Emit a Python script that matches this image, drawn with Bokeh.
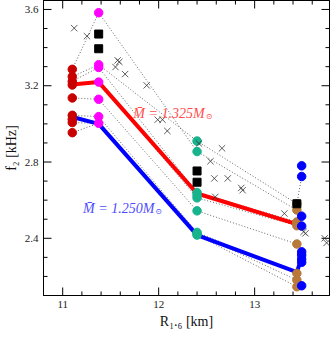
from bokeh.plotting import figure
from bokeh.models import LinearAxis, Range1d, FixedTicker, Label, CustomJSTickFormatter
from bokeh.embed import file_html
from bokeh.resources import INLINE

# ---------------- data ----------------
eos_R = [11.1, 11.375, 12.4, 13.44]
blue_R = 13.49

darkred_f = [3.286, 3.248, 3.223, 3.204, 3.136, 3.045, 3.024, 3.007, 2.954]
magenta_f = [3.583, 3.310, 3.296, 3.219, 3.129, 3.038, 3.003]
teal_f = [2.910, 2.855, 2.640, 2.626, 2.612, 2.544, 2.431, 2.424, 2.417]
brown_f = [2.548, 2.581, 2.486, 2.476, 2.466, 2.370, 2.216, 2.181, 2.146]
blue_f = [2.780, 2.724, 2.516, 2.464, 2.329, 2.312, 2.291, 2.274, 2.151]

# dotted sequences (values at the four eos_R columns)
seq_f = [
    [3.286, 3.583, 2.855, 2.548],
    [3.248, 3.310, 2.910, 2.581],
    [3.223, 3.296, 2.640, 2.486],
    [3.204, 3.219, 2.612, 2.466],
    [3.136, 3.129, 2.544, 2.370],
    [3.045, 3.038, 2.431, 2.216],
    [3.007, 3.003, 2.424, 2.181],
    [2.954, 3.003, 2.417, 2.146],
]
extra_R = [13.44, 13.49]
extra_f = [2.581, 2.724]

# thick sequences
red_R = [11.1, 11.375, 12.4, 13.44]
red_f = [3.206, 3.219, 2.635, 2.474]
blueline_R = [11.1, 11.375, 12.4, 13.44, 13.49]
blueline_f = [3.036, 3.000, 2.417, 2.222, 2.300]

# black squares
sq_R = [11.375, 11.375, 12.4, 12.4, 13.44]
sq_f = [3.471, 3.394, 2.753, 2.694, 2.581]

# crosses
cross_R = [11.12, 11.253, 11.573, 11.59, 11.55, 11.65, 11.875, 11.99, 12.04, 12.09,
           12.42, 12.66, 12.54, 12.58, 12.72, 12.86, 12.875, 12.59, 13.31, 13.51,
           13.53, 13.73, 13.75]
cross_f = [3.502, 3.460, 3.333, 3.325, 3.298, 3.261, 3.202, 3.022, 3.022, 2.963,
           2.897, 2.872, 2.804, 2.714, 2.714, 2.664, 2.652, 2.617, 2.530, 2.434,
           2.426, 2.400, 2.376]

x_major = [11, 12, 13]
x_minor = [10.8, 11.2, 11.4, 11.6, 11.8, 12.2, 12.4, 12.6, 12.8, 13.2, 13.4, 13.6]
y_major = [2.4, 2.8, 3.2, 3.6]
y_minor = [2.1, 2.2, 2.3, 2.5, 2.6, 2.7, 2.9, 3.0, 3.1, 3.3, 3.4, 3.5]

label_red = "M\u0304 = 1.325M"
label_blue = "M\u0304 = 1.250M"

FONT = "Liberation Serif"
X0, X1 = 10.8, 13.78
Y0, Y1 = 2.1, 3.647
FW, FH = 286, 295

p = figure(frame_width=FW, frame_height=FH,
           x_range=Range1d(X0, X1), y_range=Range1d(Y0, Y1),
           output_backend="svg", toolbar_location=None,
           min_border_left=33, min_border_top=0, min_border_right=2, min_border_bottom=5,
           x_axis_label="R\u2081.\u2086 [km]", y_axis_label="f\u2082 [kHz]")
p.background_fill_color = "white"
p.outline_line_color = "black"
p.xgrid.visible = False
p.ygrid.visible = False

bottom = p.below[0]
left = p.left[0]
top = LinearAxis()
right = LinearAxis()
p.add_layout(top, "above")
p.add_layout(right, "right")

for ax in [bottom, top]:
    ax.ticker = FixedTicker(ticks=x_major, minor_ticks=x_minor)
for ax in [left, right]:
    ax.ticker = FixedTicker(ticks=y_major, minor_ticks=y_minor)

for ax in [bottom, top, left, right]:
    ax.major_tick_in = 0
    ax.major_tick_out = 0
    ax.minor_tick_in = 0
    ax.minor_tick_out = 0
    ax.axis_line_color = "black"
    ax.major_label_text_font = FONT
    ax.major_label_text_font_size = "11px"
    ax.major_label_text_color = "#222222"
    ax.axis_label_text_font = FONT
    ax.axis_label_text_font_size = "14px"
    ax.axis_label_text_font_style = "normal"
    ax.axis_label_text_color = "#111111"
    ax.major_label_standoff = 5
    ax.axis_label_standoff = 3

for ax in [top, right]:
    ax.formatter = CustomJSTickFormatter(code="return ''")
    ax.major_label_standoff = 0
    ax.axis_label = None

# inward ticks on all four sides (drawn from the tick lists)
dxp = (X1 - X0) / FW
dyp = (Y1 - Y0) / FH
for ticks, L in [(x_major, 8), (x_minor, 4)]:
    p.segment(ticks, [Y0] * len(ticks), ticks, [Y0 + L * dyp] * len(ticks), line_color="black", line_width=1)
    p.segment(ticks, [Y1] * len(ticks), ticks, [Y1 - L * dyp] * len(ticks), line_color="black", line_width=1)
for ticks, L in [(y_major, 8), (y_minor, 4)]:
    p.segment([X0] * len(ticks), ticks, [X0 + L * dxp] * len(ticks), ticks, line_color="black", line_width=1)
    p.segment([X1] * len(ticks), ticks, [X1 - L * dxp] * len(ticks), ticks, line_color="black", line_width=1)

# dotted sequences
for s in seq_f:
    p.line(eos_R, s, line_color="#555555", line_width=0.9, line_dash="1 2")
p.line(extra_R, extra_f, line_color="#555555", line_width=0.9, line_dash="1 2")

# thick lines
p.line(red_R, red_f, line_color="#ff0000", line_width=4)
p.line(blueline_R, blueline_f, line_color="#0000ff", line_width=4)

# dots
p.scatter([eos_R[0]] * len(darkred_f), darkred_f, size=8.5, color="#c80000")
p.scatter([eos_R[1]] * len(magenta_f), magenta_f, size=8.5, color="#ff00ff")
p.scatter([eos_R[2]] * len(teal_f), teal_f, size=8.5, color="#17b38c")
p.scatter([eos_R[3]] * len(brown_f), brown_f, size=8.5, color="#b8793a")
p.scatter([blue_R] * len(blue_f), blue_f, size=8.5, color="#0000ff")

# squares
p.scatter(sq_R, sq_f, marker="square", size=8, color="black")

# crosses
p.scatter(cross_R, cross_f, marker="x", size=9, line_color="#333333", line_width=0.8)

# labels
for txt, xa, ya, col in [(label_red, 12.479, 3.055, "#ff4d4d"), (label_blue, 11.955, 2.558, "#4d4dff")]:
    p.add_layout(Label(x=xa, y=ya, text=txt, text_align="right", text_baseline="alphabetic",
                       text_font=FONT, text_font_style="italic", text_font_size="14px",
                       text_color=col))
    p.add_layout(Label(x=xa, y=ya, x_offset=1, y_offset=-3, text="\u2299", text_align="left",
                       text_baseline="alphabetic", text_font="DejaVu Serif",
                       text_font_size="8px", text_color=col))

open("out.html", "w").write(file_html(p, INLINE))
